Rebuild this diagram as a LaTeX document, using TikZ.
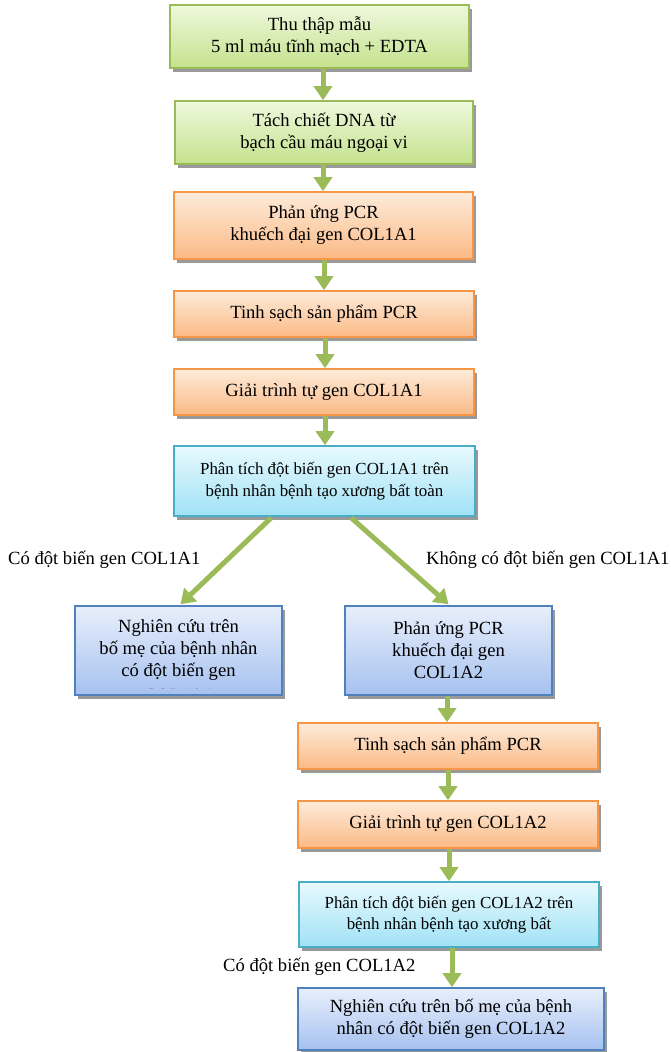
\documentclass[tikz,border=0pt]{standalone}
\usepackage{fontspec}
\setmainfont{Liberation Serif}
\usetikzlibrary{arrows.meta,shadows,calc}
\definecolor{gline}{HTML}{9BBB59}
\definecolor{oline}{HTML}{F79646}
\definecolor{cline}{HTML}{4BACC6}
\definecolor{bline}{HTML}{4F81BD}
\tikzset{
  box/.style={rectangle, inner sep=0pt, align=center, line width=1.6pt,
    font=\fontsize{18.6}{22}\selectfont,
    drop shadow={shadow xshift=3pt, shadow yshift=-3.5pt, fill=black!40, opacity=1}},
  greenbox/.style={box, draw=gline, top color={rgb,255:red,238;green,248;blue,222}, bottom color={rgb,255:red,196;green,226;blue,140}},
  orangebox/.style={box, draw=oline, top color={rgb,255:red,253;green,235;blue,218}, bottom color={rgb,255:red,251;green,186;blue,133}},
  cyanbox/.style={box, draw=cline, top color={rgb,255:red,232;green,249;blue,254}, bottom color={rgb,255:red,160;green,226;blue,246}},
  bluebox/.style={box, draw=bline, top color={rgb,255:red,232;green,239;blue,251}, bottom color={rgb,255:red,166;green,193;blue,240}},
  small/.style={font=\fontsize{16.9}{21.5}\selectfont},
  arr/.style={draw=gline, line width=5pt, -{Triangle[width=18pt,length=14pt]}, color=gline},
  lbl/.style={inner sep=0pt, anchor=west, font=\fontsize{18.6}{22}\selectfont}
}
\begin{document}
\begin{tikzpicture}[x=1pt,y=-1pt]
\useasboundingbox (0,0) rectangle (671,1052);
\node[greenbox, minimum width=299pt, minimum height=63pt] (b1) at (319.5,36.5) {Thu thập mẫu\\5 ml máu tĩnh mạch + EDTA};
\node[greenbox, minimum width=298pt, minimum height=63pt] (b2) at (324,132.5) {Tách chiết DNA từ\\bạch cầu máu ngoại vi};
\node[orangebox, minimum width=299pt, minimum height=67pt] (b3) at (323.5,225.5) {Phản ứng PCR\\khuếch đại gen COL1A1};
\node[orangebox, minimum width=300pt, minimum height=46pt] (b4) at (324,314) {Tinh sạch sản phẩm PCR};
\node[orangebox, minimum width=300pt, minimum height=46pt] (b5) at (324,392) {Giải trình tự gen COL1A1};
\node[cyanbox, small, minimum width=301pt, minimum height=70pt] (b6) at (324.5,481) {Phân tích đột biến gen COL1A1 trên\\bệnh nhân bệnh tạo xương bất toàn};
\node[bluebox, minimum width=207pt, minimum height=89pt] (b7) at (178.5,650.5) {Nghiên cứu trên\\bố mẹ của bệnh nhân\\có đột biến gen};
\begin{scope}
  \clip (76,607) rectangle (281,688.5);
  \node[inner sep=0pt, font=\fontsize{18.6}{22}\selectfont, text=black!70] (b7x) at (178.5,695) {COL1A1};
\end{scope}
\node[bluebox, minimum width=207pt, minimum height=89pt] (b8) at (448.5,650.5) {Phản ứng PCR\\khuếch đại gen\\COL1A2};
\node[orangebox, minimum width=300pt, minimum height=46pt] (b9) at (448,746) {Tinh sạch sản phẩm PCR};
\node[orangebox, minimum width=300pt, minimum height=47pt] (b10) at (448,824.5) {Giải trình tự gen COL1A2};
\node[cyanbox, small, minimum width=300pt, minimum height=65pt] (b11) at (449,914.5) {Phân tích đột biến gen COL1A2 trên\\bệnh nhân bệnh tạo xương bất};
\node[bluebox, minimum width=306pt, minimum height=62pt] (b12) at (451,1019) {Nghiên cứu trên bố mẹ của bệnh\\nhân có đột biến gen COL1A2};

\node[lbl] (l1) at (8,560) {Có đột biến gen COL1A1};
\node[lbl] (l2) at (426,560) {Không có đột biến gen COL1A1};
\node[lbl] (l3) at (223,967) {Có đột biến gen COL1A2};

\draw[arr] (323,0 |- b1.south) -- (323,0 |- b2.north);
\draw[arr] (323,0 |- b2.south) -- (323,0 |- b3.north);
\draw[arr] (324,0 |- b3.south) -- (324,0 |- b4.north);
\draw[arr] (325,0 |- b4.south) -- (325,0 |- b5.north);
\draw[arr] (325,0 |- b5.south) -- (325,0 |- b6.north);
\draw[arr] ($(b6.south west)+(98,1)$) -- ($(b7.north)+(2,-1)$);
\draw[arr] ($(b6.south west)+(178,1)$) -- ($(b8.north)+(0,-1)$);
\draw[arr] (447,0 |- b8.south) -- (447,0 |- b9.north);
\draw[arr] (448,0 |- b9.south) -- (448,0 |- b10.north);
\draw[arr] (449,0 |- b10.south) -- (449,0 |- b11.north);
\draw[arr] (452,0 |- b11.south) -- (452,0 |- b12.north);
\end{tikzpicture}
\end{document}
